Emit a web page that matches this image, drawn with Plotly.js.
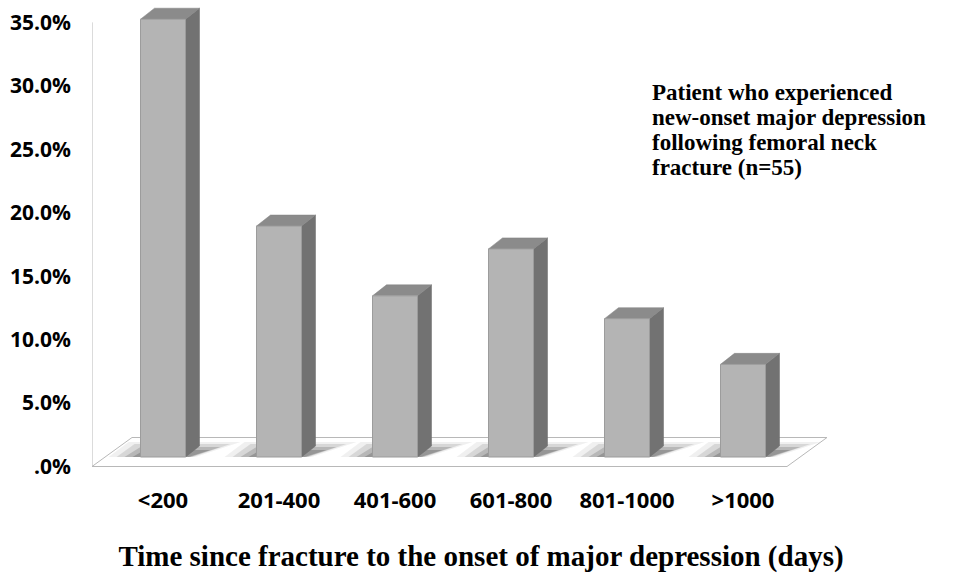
<!DOCTYPE html>
<html>
<head>
<meta charset="utf-8">
<script src="https://cdn.plot.ly/plotly-3.0.1.min.js"></script>
<style>html,body{margin:0;padding:0;background:#fff;}#chart{width:957px;height:580px;}</style>
</head>
<body>
<div id="chart"></div>
<script>
// ---- data ----
const categories = ['<200', '201-400', '401-600', '601-800', '801-1000', '>1000'];
const values = [34.5, 18.2, 12.7, 16.4, 10.9, 7.3]; // percent of patients (n=55)
const yTickVals = [0, 5, 10, 15, 20, 25, 30, 35];
const yTickText = ['.0%', '5.0%', '10.0%', '15.0%', '20.0%', '25.0%', '30.0%', '35.0%'];
const xTitle = 'Time since fracture to the onset of major depression (days)';
const noteLines = ['Patient who experienced', 'new-onset major depression', 'following femoral neck', 'fracture (n=55)'];

// ---- geometry (pixel styling converted to axis units) ----
const W = 957, H = 580;
const plotL = 92, plotR = 870, plotT = 0, plotB = 480;
const pxPerX = 116, pxPerY = 12.69;
const zeroPx = 466.5, firstCenterPx = 163;
const xr = [(plotL - firstCenterPx) / pxPerX, (plotR - firstCenterPx) / pxPerX];
const yr = [-(plotB - zeroPx) / pxPerY, (zeroPx - plotT) / pxPerY];
const ux = p => p / pxPerX, uy = p => p / pxPerY;

const halfW = ux(22.5), depX = ux(14), depY = uy(11), baseY = uy(9.5);
const floorDX = ux(40), floorDY = uy(29);
const floorRight = (787 - firstCenterPx) / pxPerX;

const traces = [];
function poly(xs, ys, fill, line, lw) {
  traces.push({type: 'scatter', mode: 'lines', x: xs.concat([xs[0]]), y: ys.concat([ys[0]]),
    fill: 'toself', fillcolor: fill, line: {color: line || 'rgba(0,0,0,0)', width: lw || 0},
    hoverinfo: 'skip', showlegend: false});
}
function seg(xs, ys, color, w) {
  traces.push({type: 'scatter', mode: 'lines', x: xs, y: ys, line: {color: color, width: w},
    hoverinfo: 'skip', showlegend: false});
}

// floor
const fl = xr[0];
poly([fl, floorRight, floorRight + floorDX, fl + floorDX], [0, 0, floorDY, floorDY], '#ffffff', '#b8b8b8', 1);
// left wall line
seg([fl, fl], [0, yTickVals[yTickVals.length - 1]], '#b8b8b8', 1);

// shadows
categories.forEach((c, i) => {
  const x0 = i - halfW;
  const layers = [
    {a: -32, b: 55, c: 100, d: -12, h: 15, col: 'rgba(0,0,0,0.06)'},
    {a: -24, b: 52, c: 90, d: -6, h: 13, col: 'rgba(0,0,0,0.10)'},
    {a: -16, b: 50, c: 80, d: 0, h: 10, col: 'rgba(0,0,0,0.15)'},
    {a: -8, b: 48, c: 70, d: 4, h: 7, col: 'rgba(0,0,0,0.18)'}
  ];
  layers.forEach(L => {
    poly([x0 + ux(L.a), x0 + ux(L.b), x0 + ux(L.c), x0 + ux(L.d)],
         [baseY, baseY, baseY + uy(L.h), baseY + uy(L.h)], L.col);
  });
});

// bars
categories.forEach((c, i) => {
  const v = values[i];
  const x0 = i - halfW, x1 = i + halfW;
  const top = baseY + v;
  // side
  poly([x1, x1 + depX, x1 + depX, x1], [baseY, baseY + depY, top + depY, top], '#727272', '#6a6a6a', 0.5);
  // top
  poly([x0, x1, x1 + depX, x0 + depX], [top, top, top + depY, top + depY], '#8b8b8b', '#828282', 0.5);
  // front
  poly([x0, x1, x1, x0], [baseY, baseY, top, top], '#b4b4b4', '#9c9c9c', 1);
});

const pw = plotR - plotL, ph = plotB - plotT;
const annotations = noteLines.map((t, k) => ({
  text: t, xref: 'paper', yref: 'paper', x: (650 - plotL) / pw, y: 1 - (92 + 25 * k - plotT) / ph,
  xanchor: 'left', yanchor: 'middle', showarrow: false,
  font: {family: '"Liberation Serif", "Times New Roman", serif', size: 23, color: '#000', weight: 700}
}));

const layout = {
  width: W, height: H,
  margin: {l: plotL, r: W - plotR, t: plotT, b: H - plotB},
  paper_bgcolor: '#fff', plot_bgcolor: '#fff',
  showlegend: false,
  font: {family: '"Open Sans", sans-serif', size: 20, color: '#000', weight: 700},
  xaxis: {range: xr, showgrid: false, zeroline: false, showline: false,
    tickvals: categories.map((c, i) => i), ticktext: categories, ticks: '',
    ticklabelstandoff: 5,
    tickfont: {family: '"Open Sans", sans-serif', size: 22, color: '#000', weight: 700},
    title: {text: xTitle, standoff: 32,
      font: {family: '"Liberation Serif", "Times New Roman", serif', size: 29, color: '#000', weight: 700}},
    automargin: false, fixedrange: true},
  yaxis: {range: yr, showgrid: false, zeroline: false, showline: false,
    tickvals: yTickVals, ticktext: yTickText, ticks: '', ticklabelstandoff: 20,
    tickfont: {family: '"Open Sans", sans-serif', size: 21, color: '#000', weight: 700},
    automargin: false, fixedrange: true},
  annotations: annotations
};

Plotly.newPlot('chart', traces, layout, {staticPlot: true, displayModeBar: false});
</script>
</body>
</html>
